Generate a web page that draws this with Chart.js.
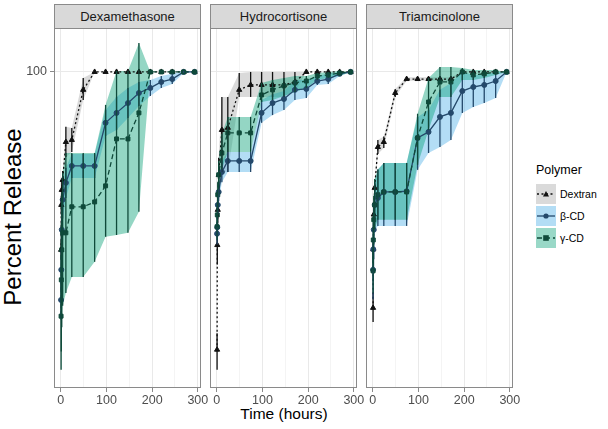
<!DOCTYPE html>
<html>
<head>
<meta charset="utf-8">
<script src="https://cdn.jsdelivr.net/npm/chart.js@4.4.0/dist/chart.umd.min.js"></script>
<style>
  body { margin: 0; background: #fff; font-family: "Liberation Sans", Arial, sans-serif; }
  #wrap { position: relative; width: 608px; height: 429px; overflow: hidden; }
  canvas { position: absolute; }
  .strip { position: absolute; top: 4px; height: 25px; width: 147px; box-sizing: border-box;
           background: #d9d9d9; border: 1px solid #8a8a8a; color: #1a1a1a; font-size: 13px;
           text-align: center; line-height: 23px; }
  .ytitle { position: absolute; left: -137px; top: 203px; width: 300px; height: 28px; line-height: 28px;
            text-align: center; font-size: 24px; font-weight: normal; color: #000; transform: rotate(-90deg); }
  .xtitle { position: absolute; left: 184px; top: 405px; width: 200px; text-align: center;
            font-size: 15.5px; font-weight: normal; color: #000; }
  #legend { position: absolute; left: 536px; top: 163px; color: #000; }
  #legend .ttl { font-size: 12.5px; height: 20px; }
  #legend .row { display: flex; align-items: center; height: 22px; font-size: 10.5px; }
  #legend svg { margin-right: 4px; }
</style>
</head>
<body>
<div id="wrap">
  <div class="ytitle">Percent Release</div>
  <div class="xtitle">Time (hours)</div>
  <div id="legend"></div>
</div>
<script>
// sampling times (hours)
const hours = [0.5, 1, 2, 4, 11, 24, 49, 74, 98, 122, 147, 171, 196, 220, 244, 269, 293];
const xTicks = [0, 50, 100, 150, 200, 250, 300];
const yTicks = [100];
const drugs = ['Dexamethasone', 'Hydrocortisone', 'Triamcinolone'];
const polymers = ['Dextran', 'β-CD', 'γ-CD'];

// Dexamethasone
const dexDextran   = [35.9, 46.5, 50.7, 53.7, 66.8, 67.6, 90.2, 100, 100, 100, 100, 100, 100, 100, 100, 100, 100];
const dexDextranLo = [33.9, 44.0, 48.0, 51.0, 61.3, 63.1, 85.1, 100, 100, 100, 100, 100, 100, 100, 100, 100, 100];
const dexDextranHi = [37.9, 49.0, 53.5, 56.5, 72.9, 72.4, 96.6, 100, 100, 100, 100, 100, 100, 100, 100, 100, 100];
const dexBeta   = [26.9, 32.0, 40.3, 47.9, 52.8, 58.2, 58.2, 58.2, 74.6, 79.0, 83.6, 88.6, 91.2, 94.4, 96.0, 100, 100];
const dexBetaLo = [24.0, 28.5, 36.0, 43.0, 48.4, 54.3, 54.3, 54.3, 69.2, 71.6, 76.7, 82.2, 87.1, 91.2, 93.3, 99.4, 100];
const dexBetaHi = [30.0, 36.0, 45.0, 53.0, 57.5, 62.3, 62.3, 62.3, 80.3, 86.6, 91.2, 94.4, 95.5, 97.7, 98.9, 100.6, 100];
const dexGamma   = [24.5, 30.2, 35.9, 39.6, 39.6, 46.0, 46.0, 47.3, 51.9, 68.0, 68.0, 79.0, 100, 100, 100, 100, 100];
const dexGammaLo = [18.0, 20.0, 23.0, 26.0, 28.0, 30.7, 30.7, 33.5, 38.7, 39.1, 39.6, 44.7, 100, 100, 100, 100, 100];
const dexGammaHi = [34.9, 42.0, 50.0, 56.0, 62.7, 62.7, 62.7, 62.7, 82.7, 100.6, 100.6, 118.2, 100, 100, 100, 100, 100];

// Hydrocortisone
const hydDextran   = [20.2, 36.9, 45.2, 55.3, 71.6, 72.5, 90.2, 92.8, 92.8, 92.8, 92.8, 94.4, 100, 100, 100, 100, 100];
const hydDextranLo = [18.0, 33.0, 42.0, 50.0, 56.2, 56.2, 86.6, 86.6, 86.6, 86.6, 86.6, 89.1, 100, 100, 100, 100, 100];
const hydDextranHi = [22.2, 41.0, 49.0, 61.0, 86.6, 86.6, 99.4, 100, 100, 100, 100, 100, 100, 100, 100, 100, 100];
const hydBeta   = [39.4, 40.9, 46.5, 50.1, 56.2, 59.9, 59.9, 59.9, 79.0, 83.6, 85.6, 90.2, 90.7, 94.9, 96.0, 98.9, 100];
const hydBetaLo = [37.0, 38.5, 44.0, 47.5, 53.0, 56.2, 56.2, 56.2, 74.6, 78.0, 80.3, 85.1, 86.1, 92.8, 93.3, 97.7, 100];
const hydBetaHi = [42.0, 43.5, 49.0, 53.0, 60.0, 63.1, 63.1, 63.1, 85.1, 88.0, 89.6, 95.5, 95.5, 97.7, 98.9, 100, 100];
const hydGamma   = [41.0, 43.9, 49.3, 55.3, 62.7, 70.4, 70.4, 70.4, 87.6, 90.2, 92.3, 93.9, 94.9, 97.7, 98.3, 99.4, 100];
const hydGammaLo = [38.0, 41.0, 46.0, 51.0, 57.0, 63.1, 63.1, 63.1, 84.1, 85.1, 87.1, 89.1, 91.2, 95.5, 96.6, 97.7, 100];
const hydGammaHi = [44.0, 47.0, 53.0, 60.0, 70.0, 77.2, 77.2, 77.2, 93.9, 95.5, 96.6, 97.7, 97.7, 99.4, 100, 100.6, 100];

// Triamcinolone
const triDextran   = [25.7, 36.0, 44.0, 51.3, 64.9, 66.8, 88.6, 96.0, 96.0, 96.0, 96.0, 96.0, 100, 100, 100, 100, 100];
const triDextranLo = [23.7, 34.0, 42.0, 49.5, 62.3, 64.5, 86.6, 95.0, 95.0, 95.0, 95.0, 95.0, 100, 100, 100, 100, 100];
const triDextranHi = [28.0, 38.0, 46.0, 53.0, 67.6, 69.0, 90.7, 97.0, 97.0, 97.0, 97.0, 97.0, 100, 100, 100, 100, 100];
const triBeta   = [32.0, 36.0, 40.3, 46.5, 48.4, 50.1, 50.1, 50.3, 68.4, 70.8, 77.2, 79.0, 89.6, 91.7, 92.8, 94.9, 100];
const triBetaLo = [27.0, 30.0, 34.0, 40.0, 41.2, 41.2, 41.2, 41.2, 56.9, 62.7, 64.9, 67.6, 79.0, 81.7, 83.6, 86.1, 100];
const triBetaHi = [37.0, 42.0, 47.0, 53.0, 57.0, 59.2, 59.2, 59.2, 77.2, 80.3, 90.2, 93.9, 100, 98.3, 98.3, 100, 100];
const triGamma   = [31.8, 38.0, 42.7, 46.5, 49.3, 50.1, 50.1, 50.1, 68.4, 84.1, 94.4, 94.4, 100, 98.3, 98.9, 100, 100];
const triGammaLo = [28.0, 33.0, 37.0, 40.5, 42.7, 42.7, 42.7, 42.7, 58.6, 71.6, 86.6, 86.6, 95.5, 95.5, 96.6, 98.3, 100];
const triGammaHi = [36.0, 44.0, 49.0, 54.0, 57.0, 59.2, 59.2, 59.2, 78.6, 96.6, 102.9, 102.9, 102.3, 101.2, 101.2, 101.2, 100];

const panelSeries = [
  [[dexDextran, dexDextranLo, dexDextranHi], [dexBeta, dexBetaLo, dexBetaHi], [dexGamma, dexGammaLo, dexGammaHi]],
  [[hydDextran, hydDextranLo, hydDextranHi], [hydBeta, hydBetaLo, hydBetaHi], [hydGamma, hydGammaLo, hydGammaHi]],
  [[triDextran, triDextranLo, triDextranHi], [triBeta, triBetaLo, triBetaHi], [triGamma, triGammaLo, triGammaHi]]
];

// look of each polymer
const looks = [
  { line: '#111111', band: 'rgba(140,140,140,0.32)', key: '#dadada', dash: [2, 2.5], point: 'triangle', r: 3 },
  { line: '#24496b', band: 'rgba(86,180,233,0.45)', key: '#b3ddf5', dash: [], point: 'circle', r: 2.5 },
  { line: '#0f4a3a', band: 'rgba(0,158,115,0.42)', key: '#99d8c7', dash: [5, 3], point: 'rect', r: 2.8 }
];

Chart.defaults.font.family = '"Liberation Sans", Arial, sans-serif';

const panelLeft = [54, 210, 366];
const panelW = 147, panelTop = 28, panelH = 360;

// vertical error bars, drawn through the chart scales
const errorBars = {
  id: 'errorBars',
  afterDatasetsDraw(chart) {
    const { ctx, chartArea: a, scales: { x, y } } = chart;
    ctx.save();
    ctx.beginPath();
    ctx.rect(a.left, a.top, a.right - a.left, a.bottom - a.top);
    ctx.clip();
    chart.data.datasets.forEach(ds => {
      if (!ds.errLo) return;
      ctx.strokeStyle = ds.borderColor;
      ctx.lineWidth = 1.3;
      ds.data.forEach((p, j) => {
        const px = x.getPixelForValue(p.x);
        ctx.beginPath();
        ctx.moveTo(px, y.getPixelForValue(ds.errLo[j]));
        ctx.lineTo(px, y.getPixelForValue(ds.errHi[j]));
        ctx.stroke();
      });
    });
    ctx.restore();
  }
};

// panel border
const panelBox = {
  id: 'panelBox',
  afterDraw(chart) {
    const { ctx, chartArea: a } = chart;
    ctx.save();
    ctx.strokeStyle = '#8a8a8a';
    ctx.lineWidth = 1;
    ctx.strokeRect(a.left + 0.5, a.top + 0.5, a.right - a.left - 1, a.bottom - a.top - 1);
    ctx.restore();
  }
};

const wrap = document.getElementById('wrap');

panelSeries.forEach((series, i) => {
  const padL = i === 0 ? 0 : 12, padR = 12, padT = 12, axisH = 24, yAxisW = i === 0 ? 54 : 0;
  const canvas = document.createElement('canvas');
  canvas.width = padL + yAxisW + panelW + padR;
  canvas.height = padT + panelH + axisH;
  canvas.style.left = (panelLeft[i] - padL - yAxisW) + 'px';
  canvas.style.top = (panelTop - padT) + 'px';
  wrap.appendChild(canvas);

  const strip = document.createElement('div');
  strip.className = 'strip';
  strip.style.left = panelLeft[i] + 'px';
  strip.textContent = drugs[i];
  wrap.appendChild(strip);

  const bands = [], lines = [];
  series.forEach(([mean, lo, hi], k) => {
    const lk = looks[k];
    bands.push({
      label: polymers[k] + ' hi',
      data: hours.map((t, j) => ({ x: t, y: hi[j] })),
      borderWidth: 0, pointRadius: 0, fill: false, order: 20 - 2 * k
    });
    bands.push({
      label: polymers[k] + ' lo',
      data: hours.map((t, j) => ({ x: t, y: lo[j] })),
      borderWidth: 0, pointRadius: 0, fill: '-1', backgroundColor: lk.band, order: 19 - 2 * k
    });
    lines.push({
      label: polymers[k],
      data: hours.map((t, j) => ({ x: t, y: mean[j] })),
      errLo: lo, errHi: hi,
      borderColor: lk.line, borderWidth: 1.3, borderDash: lk.dash,
      pointStyle: lk.point, pointRadius: lk.r,
      pointBackgroundColor: lk.line, pointBorderColor: lk.line, pointBorderWidth: 1,
      fill: false, tension: 0, order: 3 - k
    });
  });

  new Chart(canvas.getContext('2d'), {
    type: 'line',
    data: { datasets: bands.concat(lines) },
    options: {
      responsive: false,
      animation: false,
      devicePixelRatio: 1,
      layout: { padding: { left: padL, right: padR, top: padT, bottom: 0 } },
      plugins: { legend: { display: false }, tooltip: { enabled: false } },
      scales: {
        x: {
          type: 'linear', min: -15, max: 307,
          afterBuildTicks: s => { s.ticks = xTicks.map(v => ({ value: v })); },
          afterFit: s => { s.height = axisH; },
          ticks: {
            autoSkip: false, maxRotation: 0, color: '#4d4d4d', font: { size: 12.5 }, padding: 1,
            callback: v => (v % 100 === 0 ? String(v) : '')
          },
          grid: {
            color: c => (c.tick && c.tick.value % 100 === 0 ? '#e9e9e9' : '#f4f4f4'),
            tickColor: c => (c.tick && c.tick.value % 100 === 0 ? '#8a8a8a' : 'rgba(0,0,0,0)'),
            tickLength: 4
          },
          border: { display: false }
        },
        y: {
          type: 'logarithmic', min: 16.2, max: 128.8,
          afterBuildTicks: s => { s.ticks = yTicks.map(v => ({ value: v })); },
          afterFit: s => { s.width = yAxisW; },
          ticks: { display: i === 0, color: '#4d4d4d', font: { size: 12.5 }, padding: 3, callback: v => String(v) },
          grid: { color: '#e9e9e9', drawTicks: i === 0, tickLength: 4, tickColor: '#8a8a8a' },
          border: { display: false }
        }
      }
    },
    plugins: [errorBars, panelBox]
  });
});

// legend
const legend = document.getElementById('legend');
legend.innerHTML = '<div class="ttl">Polymer</div>';
polymers.forEach((p, k) => {
  const lk = looks[k];
  let mark;
  if (lk.point === 'triangle') mark = '<polygon points="10,7 13,12.5 7,12.5" fill="' + lk.line + '"/>';
  else if (lk.point === 'circle') mark = '<circle cx="10" cy="10" r="2.6" fill="' + lk.line + '"/>';
  else mark = '<rect x="7.2" y="7.2" width="5.6" height="5.6" fill="' + lk.line + '"/>';
  const dash = lk.dash.length ? ' stroke-dasharray="' + lk.dash.join(',') + '"' : '';
  legend.insertAdjacentHTML('beforeend',
    '<div class="row"><svg width="20" height="20"><rect width="20" height="20" fill="' + lk.key + '"/>' +
    '<line x1="1" y1="10" x2="19" y2="10" stroke="' + lk.line + '" stroke-width="1.3"' + dash + '/>' +
    mark + '</svg>' + p + '</div>');
});
</script>
</body>
</html>
